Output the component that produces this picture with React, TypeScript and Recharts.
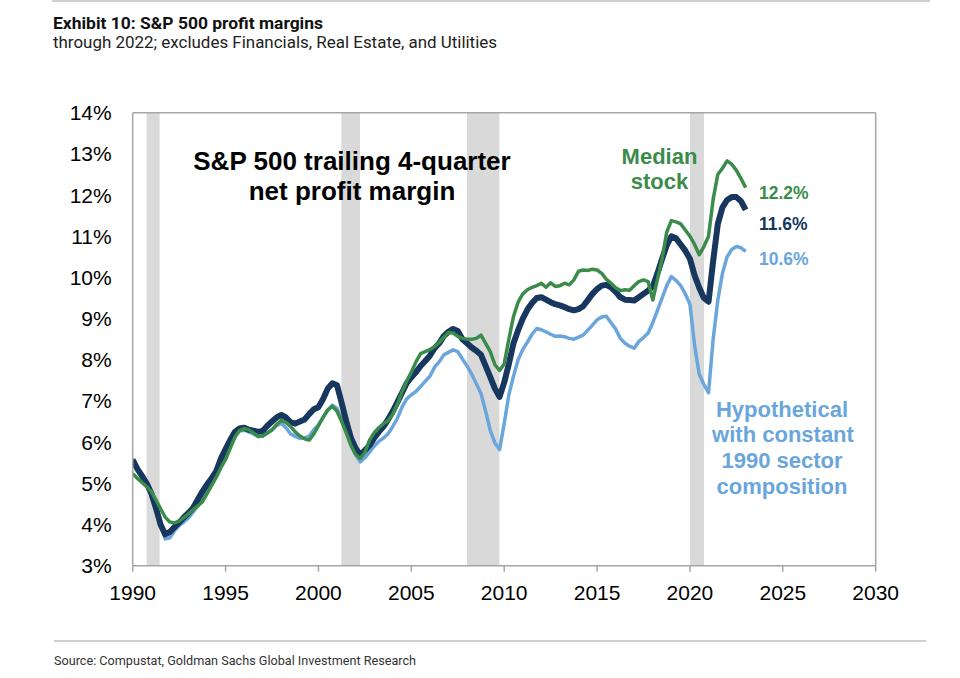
import React from 'react';
import { ComposedChart, Line, XAxis, YAxis, ReferenceArea, ReferenceLine } from 'recharts';

const years = [
  1990, 1990.25, 1990.5, 1990.75, 1991, 1991.25, 1991.5, 1991.75,
  1992, 1992.25, 1992.5, 1992.75, 1993, 1993.25, 1993.5, 1993.75,
  1994, 1994.25, 1994.5, 1994.75, 1995, 1995.25, 1995.5, 1995.75,
  1996, 1996.25, 1996.5, 1996.75, 1997, 1997.25, 1997.5, 1997.75,
  1998, 1998.25, 1998.5, 1998.75, 1999, 1999.25, 1999.5, 1999.75,
  2000, 2000.25, 2000.5, 2000.75, 2001, 2001.25, 2001.5, 2001.75,
  2002, 2002.25, 2002.5, 2002.75, 2003, 2003.25, 2003.5, 2003.75,
  2004, 2004.25, 2004.5, 2004.75, 2005, 2005.25, 2005.5, 2005.75,
  2006, 2006.25, 2006.5, 2006.75, 2007, 2007.25, 2007.5, 2007.75,
  2008, 2008.25, 2008.5, 2008.75, 2009, 2009.25, 2009.5, 2009.75,
  2010, 2010.25, 2010.5, 2010.75, 2011, 2011.25, 2011.5, 2011.75,
  2012, 2012.25, 2012.5, 2012.75, 2013, 2013.25, 2013.5, 2013.75,
  2014, 2014.25, 2014.5, 2014.75, 2015, 2015.25, 2015.5, 2015.75,
  2016, 2016.25, 2016.5, 2016.75, 2017, 2017.25, 2017.5, 2017.75,
  2018, 2018.25, 2018.5, 2018.75, 2019, 2019.25, 2019.5, 2019.75,
  2020, 2020.25, 2020.5, 2020.75, 2021, 2021.25, 2021.5, 2021.75,
  2022, 2022.25, 2022.5, 2022.75, 2023,
];

// S&P 500 trailing 4-quarter net profit margin (%)
const spMargin = [
  5.57, 5.35, 5.18, 5.0, 4.76, 4.4, 4.0, 3.76,
  3.82, 3.94, 4.05, 4.17, 4.28, 4.4, 4.6, 4.8,
  4.97, 5.12, 5.3, 5.6, 5.83, 6.05, 6.25, 6.33,
  6.35, 6.3, 6.28, 6.25, 6.27, 6.4, 6.5, 6.6,
  6.66, 6.6, 6.48, 6.45, 6.5, 6.55, 6.68, 6.8,
  6.85, 7.05, 7.3, 7.43, 7.38, 6.95, 6.5, 6.1,
  5.85, 5.69, 5.8, 5.92, 6.1, 6.25, 6.38, 6.55,
  6.75, 6.97, 7.2, 7.43, 7.58, 7.7, 7.85, 7.97,
  8.1, 8.28, 8.4, 8.58, 8.68, 8.75, 8.7, 8.5,
  8.4, 8.3, 8.22, 8.12, 7.85, 7.58, 7.3, 7.1,
  7.45, 7.9, 8.4, 8.72, 9.0, 9.22, 9.38, 9.5,
  9.52, 9.46, 9.4, 9.35, 9.32, 9.28, 9.23, 9.2,
  9.23, 9.3, 9.45, 9.6, 9.72, 9.8, 9.82, 9.76,
  9.65, 9.52, 9.46, 9.45, 9.44, 9.52, 9.6, 9.68,
  9.78, 10.1, 10.45, 10.78, 11.0, 10.95, 10.8, 10.65,
  10.45, 10.05, 9.75, 9.5, 9.41, 10.4, 11.3, 11.7,
  11.88, 11.95, 11.95, 11.85, 11.64,
];

// Median stock net profit margin (%)
const medianMargin = [
  5.24, 5.12, 5.02, 4.92, 4.8, 4.6, 4.38, 4.18,
  4.06, 4.04, 4.08, 4.17, 4.26, 4.36, 4.45, 4.55,
  4.75, 4.95, 5.15, 5.38, 5.58, 5.85, 6.12, 6.28,
  6.33, 6.3, 6.22, 6.15, 6.15, 6.22, 6.3, 6.43,
  6.53, 6.48, 6.38, 6.25, 6.15, 6.08, 6.05, 6.2,
  6.4, 6.6, 6.78, 6.87, 6.75, 6.5, 6.22, 5.92,
  5.7, 5.6, 5.75, 6.05, 6.23, 6.35, 6.45, 6.52,
  6.68, 6.92, 7.22, 7.48, 7.7, 7.95, 8.15, 8.2,
  8.25, 8.32, 8.42, 8.55, 8.66, 8.65, 8.57, 8.52,
  8.5, 8.5, 8.52, 8.6, 8.4, 8.2, 7.88, 7.74,
  7.9, 8.5, 9.05, 9.4, 9.6, 9.7, 9.76, 9.8,
  9.86, 9.76, 9.87, 9.78, 9.8, 9.86, 9.82, 9.94,
  10.15, 10.18, 10.17, 10.2, 10.18, 10.1, 9.95, 9.86,
  9.75, 9.68, 9.7, 9.69, 9.8, 9.9, 9.94, 9.9,
  9.45, 9.95, 10.45, 11.1, 11.38, 11.35, 11.3, 11.15,
  11.0, 10.8, 10.55, 10.75, 11.0, 11.9, 12.5, 12.65,
  12.83, 12.75, 12.6, 12.4, 12.18,
];

// Hypothetical with constant 1990 sector composition (%)
const hypoMargin = [
  5.6, 5.35, 5.15, 4.95, 4.76, 4.45, 4.0, 3.65,
  3.68, 3.85, 3.97, 4.06, 4.16, 4.3, 4.45, 4.65,
  4.83, 5.02, 5.25, 5.5, 5.75, 5.98, 6.17, 6.27,
  6.29, 6.25, 6.2, 6.13, 6.15, 6.22, 6.3, 6.4,
  6.46, 6.35, 6.2, 6.14, 6.09, 6.1, 6.15, 6.3,
  6.42, 6.6, 6.78, 6.9, 6.82, 6.55, 6.3, 5.95,
  5.7, 5.52, 5.62, 5.76, 5.9, 6.02, 6.1, 6.2,
  6.38, 6.58, 6.85, 7.05, 7.15, 7.23, 7.35, 7.48,
  7.6, 7.82, 7.95, 8.12, 8.18, 8.24, 8.2, 8.02,
  7.85, 7.65, 7.42, 7.18, 6.75, 6.28, 5.98, 5.82,
  6.45, 7.15, 7.6, 8.0, 8.25, 8.43, 8.62, 8.76,
  8.73, 8.68, 8.62, 8.57, 8.58, 8.56, 8.52, 8.5,
  8.55, 8.6, 8.72, 8.84, 8.97, 9.04, 9.06, 8.9,
  8.75, 8.52, 8.4, 8.33, 8.28, 8.45, 8.54, 8.65,
  8.9, 9.2, 9.5, 9.8, 10.02, 9.93, 9.8, 9.6,
  9.35, 8.35, 7.65, 7.4, 7.2, 8.5, 9.45, 10.1,
  10.5, 10.68, 10.75, 10.72, 10.63,
];

const recessionStarts = [1990.75, 2001.23, 2008.0, 2020.0];
const recessionEnds = [1991.45, 2002.24, 2009.74, 2020.76];

const xTicks = [1990, 1995, 2000, 2005, 2010, 2015, 2020, 2025, 2030];
const yTicks = [3, 4, 5, 6, 7, 8, 9, 10, 11, 12, 13, 14];

const NAVY = '#17375e';
const GREEN = '#3b8c4a';
const LIGHT = '#6aa6dc';
const AXIS = '#a6a6a6';
const FONT = '"Liberation Sans", Arial, sans-serif';

const data = years.map((year, i) => ({
  year,
  sp: spMargin[i],
  median: medianMargin[i],
  hypo: hypoMargin[i],
}));

export default function App() {
  return (
    <div style={{ position: 'absolute', left: 0, top: 0, width: 960, height: 678, background: '#fff' }}>
      <ComposedChart
        width={960}
        height={678}
        data={data}
        margin={{ top: 112.7, right: 84.3, bottom: 82.3, left: 72.7 }}
      >
        <XAxis
          dataKey="year"
          type="number"
          domain={[1990, 2030]}
          ticks={xTicks}
          allowDataOverflow
          height={30}
          stroke={AXIS}
          strokeWidth={1.5}
          tickSize={6}
          tickMargin={13}
          tick={{ fill: '#000', fontSize: 21, fontFamily: FONT }}
        />
        <YAxis
          type="number"
          domain={[3, 14]}
          ticks={yTicks}
          allowDataOverflow
          width={60}
          stroke={AXIS}
          strokeWidth={1.5}
          tickLine={false}
          tickSize={0}
          tickMargin={21}
          tickFormatter={(v: number) => `${v}%`}
          tick={{ fill: '#000', fontSize: 21, fontFamily: FONT }}
        />
        {recessionStarts.map((s, i) => (
          <ReferenceArea
            key={`rec${i}`}
            x1={s}
            x2={recessionEnds[i]}
            y1={3}
            y2={14}
            fill="#d9d9d9"
            fillOpacity={1}
            stroke="none"
          />
        ))}
        <ReferenceLine y={14} stroke={AXIS} strokeWidth={1.5} />
        <ReferenceLine x={2030} stroke={AXIS} strokeWidth={1.5} />
        <Line
          type="linear"
          dataKey="hypo"
          stroke={LIGHT}
          strokeWidth={3.5}
          dot={false}
          isAnimationActive={false}
          strokeLinejoin="round"
        />
        <Line
          type="linear"
          dataKey="sp"
          stroke={NAVY}
          strokeWidth={6}
          dot={false}
          isAnimationActive={false}
          strokeLinejoin="round"
        />
        <Line
          type="linear"
          dataKey="median"
          stroke={GREEN}
          strokeWidth={3.5}
          dot={false}
          isAnimationActive={false}
          strokeLinejoin="round"
        />
      </ComposedChart>
      <svg
        width={960}
        height={678}
        style={{ position: 'absolute', left: 0, top: 0, pointerEvents: 'none' }}
      >
        <line x1={52} y1={1} x2={930} y2={1} stroke="#d0d0d0" strokeWidth={2} />
        <text x={53} y={29} fontFamily='"Liberation Sans Narrow", "Roboto", sans-serif' fontWeight="bold" fontSize={17} fill="#111" textLength={270} lengthAdjust="spacingAndGlyphs">
          Exhibit 10: S&amp;P 500 profit margins
        </text>
        <text x={53} y={48} fontFamily='"Roboto", "Liberation Sans Narrow", sans-serif' fontSize={16} fill="#222" textLength={444} lengthAdjust="spacingAndGlyphs">
          through 2022; excludes Financials, Real Estate, and Utilities
        </text>

        <text x={352} y={170} textAnchor="middle" fontFamily={FONT} fontWeight="bold" fontSize={26} fill="#000">
          S&amp;P 500 trailing 4-quarter
        </text>
        <text x={352} y={200} textAnchor="middle" fontFamily={FONT} fontWeight="bold" fontSize={26} fill="#000">
          net profit margin
        </text>

        <text x={659.5} y={164} textAnchor="middle" fontFamily={FONT} fontWeight="bold" fontSize={22} fill={GREEN}>
          Median
        </text>
        <text x={659.5} y={189} textAnchor="middle" fontFamily={FONT} fontWeight="bold" fontSize={22} fill={GREEN}>
          stock
        </text>

        <text x={759} y={199} fontFamily={FONT} fontWeight="bold" fontSize={17.5} fill={GREEN}>12.2%</text>
        <text x={759} y={229.5} fontFamily={FONT} fontWeight="bold" fontSize={17.5} fill={NAVY}>11.6%</text>
        <text x={759} y={265} fontFamily={FONT} fontWeight="bold" fontSize={17.5} fill={LIGHT}>10.6%</text>

        <text x={782} y={416.7} textAnchor="middle" fontFamily={FONT} fontWeight="bold" fontSize={22} fill={LIGHT}>Hypothetical</text>
        <text x={783} y={442.3} textAnchor="middle" fontFamily={FONT} fontWeight="bold" fontSize={22} fill={LIGHT}>with constant</text>
        <text x={782} y={468} textAnchor="middle" fontFamily={FONT} fontWeight="bold" fontSize={22} fill={LIGHT}>1990 sector</text>
        <text x={782} y={493.5} textAnchor="middle" fontFamily={FONT} fontWeight="bold" fontSize={22} fill={LIGHT}>composition</text>

        <line x1={54} y1={641} x2={926} y2={641} stroke="#d0d0d0" strokeWidth={2} />
        <text x={54} y={665} fontFamily='"Liberation Sans Narrow", "Roboto", sans-serif' fontSize={13} fill="#333" textLength={362} lengthAdjust="spacingAndGlyphs">
          Source: Compustat, Goldman Sachs Global Investment Research
        </text>
      </svg>
    </div>
  );
}
